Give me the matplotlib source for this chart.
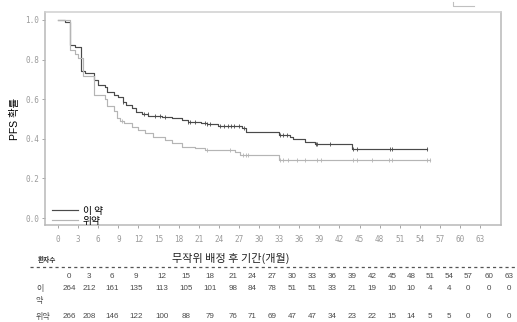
import numpy as np
import matplotlib
matplotlib.use('Agg')
import matplotlib.pyplot as plt
from matplotlib.lines import Line2D

plt.rcParams['font.family'] = ['Liberation Sans', 'Noto Sans CJK KR']

# Kaplan-Meier steps (months, survival after the drop)
drug_t = [0, 1.0, 1.8, 2.5, 3.4, 4.0, 5.4, 6.0, 7.0, 7.3, 8.3, 9.0, 9.7, 10.2, 11.0,
          11.7, 12.5, 13.5, 15.5, 17.0, 18.5, 19.4, 21.4, 22.2, 23.9, 27.4, 28.0,
          33.0, 34.6, 35.1, 36.9, 38.4, 43.8, 55.0]
drug_s = [1.0, 0.99, 0.874, 0.862, 0.74, 0.73, 0.697, 0.672, 0.663, 0.638, 0.621,
          0.613, 0.587, 0.571, 0.554, 0.537, 0.524, 0.515, 0.512, 0.503, 0.493,
          0.486, 0.481, 0.475, 0.466, 0.453, 0.436, 0.42, 0.41, 0.397, 0.385,
          0.372, 0.347, 0.347]
drug_cens = [9.7, 12.9, 13.4, 14.5, 15.2, 16.0, 19.4, 19.7, 20.4, 22.0, 22.2, 22.7,
             24.2, 24.8, 25.4, 25.8, 26.3, 27.0, 27.7, 33.1, 33.6, 34.1, 38.5, 38.7,
             40.6, 44.0, 44.6, 49.6, 49.8, 55.0]

plac_t = [0, 1.8, 2.5, 3.0, 3.7, 5.4, 7.0, 7.3, 8.3, 8.8, 9.3, 9.8, 11.0, 12.0,
          13.0, 14.2, 16.0, 17.0, 18.5, 20.4, 21.9, 26.4, 27.2, 33.0, 55.5]
plac_s = [1.0, 0.85, 0.83, 0.81, 0.715, 0.62, 0.60, 0.565, 0.54, 0.505, 0.488,
          0.478, 0.462, 0.445, 0.428, 0.41, 0.394, 0.378, 0.36, 0.352, 0.343,
          0.335, 0.318, 0.293, 0.293]
plac_cens = [9.6, 22.2, 25.7, 27.6, 28.0, 28.4, 33.1, 33.6, 34.3, 35.6, 36.9, 38.6,
             39.2, 44.0, 44.6, 46.9, 49.4, 49.9, 55.0, 55.5]

months = list(range(0, 64, 3))
n_drug = [264, 212, 161, 135, 113, 105, 101, 98, 84, 78, 51, 51, 33, 21, 19, 10, 10,
          4, 4, 0, 0, 0]
n_plac = [266, 208, 146, 122, 100, 88, 79, 76, 71, 69, 47, 47, 34, 23, 22, 15, 14,
          5, 5, 0, 0, 0]

W, H = 517, 322
fig = plt.figure(figsize=(W / 100, H / 100), dpi=100)
ax = fig.add_axes([45 / W, 1 - 225 / H, 456 / W, 213 / H])


def censor_y(t, s, c):
    idx = np.searchsorted(t, c, side='right') - 1
    return np.array(s)[idx]


dark = '#4a4a4a'
light = '#b5b5b5'
ax.step(drug_t, drug_s, where='post', color=dark, lw=0.85, label='이 약')
ax.step(plac_t, plac_s, where='post', color=light, lw=0.85, label='위약')
ax.plot(drug_cens, censor_y(drug_t, drug_s, drug_cens), ls='none', marker='|',
        ms=3.5, mew=0.6, color=dark)
ax.plot(plac_cens, censor_y(plac_t, plac_s, plac_cens), ls='none', marker='|',
        ms=3.5, mew=0.6, color=light)

ax.set_xlim(-1.94, 66.1)
ax.set_ylim(-0.035, 1.04)
ax.set_xticks(months)
ax.set_yticks(np.arange(0, 1.01, 0.2))
ax.set_yticklabels(['%.1f' % v for v in np.arange(0, 1.01, 0.2)])
ax.tick_params(axis='both', length=2, width=0.6, color='#999999', labelcolor='#9a9a9a',
               labelsize=5.5, pad=2)
ax.tick_params(axis='x', pad=5)
for lab in ax.get_xticklabels() + ax.get_yticklabels():
    lab.set_family('DejaVu Sans Mono')
for sp in ax.spines.values():
    sp.set_color('#b8b8b8')
    sp.set_linewidth(1.1)
ax.spines['top'].set_color('#d0d0d0')

ax.set_ylabel('PFS 확률', fontsize=7.5, labelpad=4,
              family=['Liberation Sans', 'Noto Sans CJK KR'])

leg = ax.legend(loc='lower left', bbox_to_anchor=(-0.003, -0.045), frameon=False,
                handlelength=2.6, handletextpad=0.5, labelspacing=0.0,
                prop={'family': 'Noto Sans CJK KR', 'size': 7})

# number at risk table
fig.text(172 / W, 1 - 258 / H, '무작위 배정 후 기간(개월)', fontsize=8,
         family='Noto Sans CJK KR', va='center', ha='left', color='#222222')
fig.text(38 / W, 1 - 259 / H, '환자수', fontsize=4.8, family='Noto Sans CJK KR',
         va='center', ha='left', color='#333333', weight='bold')
fig.add_artist(Line2D([30 / W, 1.0], [1 - 266.5 / H, 1 - 266.5 / H], color='#555555',
                      lw=0.9, ls=(0, (2.5, 2.5))))

col_x = [69, 89, 112, 136, 162, 186, 210, 233, 252, 272, 292, 312, 332, 352, 372,
         392, 411, 430, 449, 468, 489, 509]
tcol = '#4a4a4a'
for x, m, a, b in zip(col_x, months, n_drug, n_plac):
    fig.text(x / W, 1 - 276 / H, str(m), fontsize=5.8, ha='center', va='center', color=tcol)
    fig.text(x / W, 1 - 289 / H, str(a), fontsize=5.8, ha='center', va='center', color=tcol)
    fig.text(x / W, 1 - 317 / H, str(b), fontsize=5.8, ha='center', va='center', color=tcol)
fig.text(36 / W, 1 - 289 / H, '이', fontsize=5.8, family='Noto Sans CJK KR',
         ha='left', va='center', color=tcol)
fig.text(36 / W, 1 - 300 / H, '약', fontsize=5.8, family='Noto Sans CJK KR',
         ha='left', va='center', color=tcol)
fig.text(36 / W, 1 - 317 / H, '위약', fontsize=5.8, family='Noto Sans CJK KR',
         ha='left', va='center', color=tcol)

# small mark in the upper right corner
fig.add_artist(Line2D([453 / W, 453 / W, 474 / W], [1 - 2 / H, 1 - 6 / H, 1 - 6 / H],
                      color='#c0c0c0', lw=0.8))

fig.savefig('out.png', dpi=100)
